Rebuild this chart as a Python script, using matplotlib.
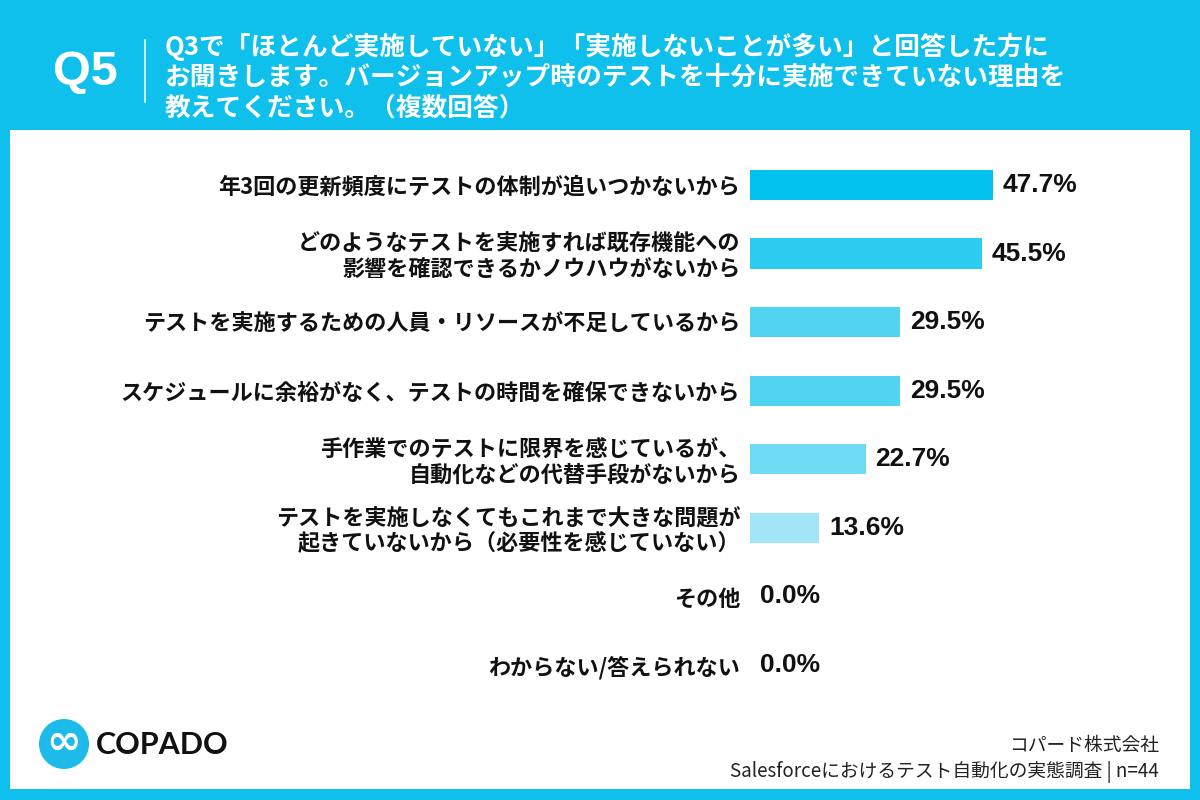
import matplotlib
matplotlib.use("Agg")
import matplotlib.pyplot as plt
from matplotlib.patches import Rectangle, Circle

plt.rcParams['font.family'] = ['Noto Sans CJK JP', 'DejaVu Sans']

# ---------------- data ----------------
categories = [
    "年3回の更新頻度にテストの体制が追いつかないから",
    "どのようなテストを実施すれば既存機能への\n影響を確認できるかノウハウがないから",
    "テストを実施するための人員・リソースが不足しているから",
    "スケジュールに余裕がなく、テストの時間を確保できないから",
    "手作業でのテストに限界を感じているが、\n自動化などの代替手段がないから",
    "テストを実施しなくてもこれまで大きな問題が\n起きていないから（必要性を感じていない）",
    "その他",
    "わからない/答えられない",
]
values = [47.7, 45.5, 29.5, 29.5, 22.7, 13.6, 0.0, 0.0]
bar_colors = ["#02C1EE", "#2BCCF0", "#50D4F2", "#50D4F2", "#70DBF4", "#A2E5F6", "#C8EFF9", "#C8EFF9"]

title_lines = [
    "Q3で「ほとんど実施していない」「実施しないことが多い」と回答した方に",
    "お聞きします。バージョンアップ時のテストを十分に実施できていない理由を",
    "教えてください。（複数回答）",
]
q_label = "Q5"
brand = "COPADO"
source_lines = ["コパード株式会社", "Salesforceにおけるテスト自動化の実態調査 | n=44"]

BLUE = "#0FC0EC"
W, H = 1200, 800

fig = plt.figure(figsize=(12, 8), dpi=100)
fig.patch.set_facecolor(BLUE)

# background / decoration axes in pixel coordinates
bg = fig.add_axes([0, 0, 1, 1])
bg.set_xlim(0, W)
bg.set_ylim(H, 0)
bg.axis("off")
bg.add_patch(Rectangle((10, 130), 1180, 659, facecolor="white", edgecolor="none"))

bg.text(85, 72, q_label, color="white", fontsize=35, fontweight="bold",
        family=["Liberation Sans", "DejaVu Sans"], ha="center", va="center")
bg.plot([145, 145], [40, 102], color="white", lw=1.2, alpha=0.9)
for i, line in enumerate(title_lines):
    bg.text(165, 47 + i * 30.5, line, color="white", fontsize=18.5, fontweight="bold",
            ha="left", va="center")

# logo
bg.add_patch(Circle((64, 744), 25, facecolor="#1DBBEA", edgecolor="none"))
bg.text(64, 742, "∞", color="white", fontsize=30, fontweight="bold",
        family=["DejaVu Sans"], ha="center", va="center")
bg.text(96, 745, brand, color="#111111", fontsize=22, fontweight="bold",
        family=["Lato", "DejaVu Sans"], ha="left", va="center")

bg.text(1159, 745, source_lines[0], color="#222222", fontsize=13.5, ha="right", va="center")
bg.text(1159, 772, source_lines[1], color="#222222", fontsize=13.5, ha="right", va="center")

# chart axes
px_per_pct = 5.09
ax_left_px, ax_right_px = 750, 1120
top_px, bottom_px = 150.7, 699.3
ax = fig.add_axes([ax_left_px / W, (H - bottom_px) / H,
                   (ax_right_px - ax_left_px) / W, (bottom_px - top_px) / H])
ax.set_xlim(0, (ax_right_px - ax_left_px) / px_per_pct)
ax.set_ylim(len(categories) - 0.5, -0.5)
ax.patch.set_alpha(0)
for s in ax.spines.values():
    s.set_visible(False)

ypos = list(range(len(categories)))
ax.barh(ypos, values, height=0.44, color=bar_colors, edgecolor="none")
ax.set_xticks([])
ax.set_yticks(ypos)
ax.set_yticklabels(categories, fontsize=15.9, fontweight="bold", color="#111111",
                   linespacing=1.1)
ax.tick_params(axis="y", length=0, pad=7)

for y, v in zip(ypos, values):
    ax.annotate(f"{v:.1f}%", xy=(v, y), xytext=(7, 0), textcoords="offset points",
                ha="left", va="center", fontsize=19, fontweight="bold", color="#111111",
                family=["Liberation Sans", "DejaVu Sans"])

fig.savefig("out.png", dpi=100, facecolor=fig.get_facecolor())
